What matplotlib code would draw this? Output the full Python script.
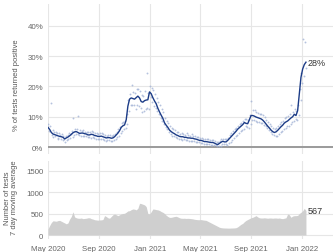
import matplotlib
matplotlib.use("Agg")
import matplotlib.pyplot as plt
import matplotlib.dates as mdates
import pandas as pd

# ---------------- data ----------------
start_date = "2020-05-01"

# smoothed positivity (%), every 4 days from 2020-05-01
positivity = [
    6.5, 5.8, 4.8, 4.3, 4.1, 3.9, 3.7, 3.5, 3.4, 3.2,
    2.7, 3.0, 3.3, 3.7, 4.2, 4.7, 5.0, 5.1, 4.8, 4.5,
    4.6, 4.6, 4.4, 4.3, 4.0, 4.0, 4.2, 4.1, 3.8, 3.7,
    3.5, 3.5, 3.6, 3.4, 3.2, 3.0, 3.1, 3.1, 2.9, 3.0,
    3.4, 4.0, 4.6, 5.4, 6.5, 7.0, 7.3, 9.0, 13.5, 15.8,
    16.2, 16.0, 15.8, 16.3, 16.8, 16.2, 15.0, 14.8, 15.3, 15.5,
    15.6, 18.2, 17.6, 16.3, 15.2, 14.3, 12.8, 11.6, 10.5, 9.5,
    8.0, 7.2, 6.5, 5.6, 5.1, 4.7, 4.4, 4.0, 3.8, 3.5,
    3.4, 3.4, 3.2, 3.2, 3.0, 3.0, 2.9, 2.9, 2.7, 2.6,
    2.4, 2.2, 2.2, 2.0, 1.8, 1.8, 1.7, 1.6, 1.5, 1.5,
    1.3, 1.0, 0.8, 1.2, 1.6, 1.9, 1.7, 1.7, 2.2, 2.8,
    3.4, 4.0, 4.6, 5.2, 5.9, 6.4, 6.9, 7.4, 8.1, 7.8,
    7.7, 9.0, 10.4, 10.4, 10.2, 9.9, 9.7, 9.5, 9.3, 8.9,
    8.3, 7.6, 6.9, 6.3, 5.6, 5.1, 4.8, 5.0, 5.5, 6.1,
    6.7, 7.2, 7.9, 8.3, 8.6, 9.1, 9.6, 10.0, 10.8, 10.4,
    12.0, 17.5, 23.0, 25.7, 27.2, 28.0,
]

# daily positivity points (%), every 2 days from 2020-05-02
daily_positivity = [
    7.5, 5.2, 6.8, 14.5, 4.0, 5.5, 3.2, 4.9, 3.5, 4.8,
    4.6, 3.0, 2.8, 4.5, 3.9, 2.6, 4.2, 2.4, 3.8, 2.5,
    1.8, 3.5, 2.2, 3.9, 2.7, 4.6, 3.1, 4.4, 5.2, 3.3,
    9.6, 4.0, 5.9, 4.2, 6.0, 4.4, 10.2, 3.9, 5.6, 3.6,
    5.4, 3.8, 5.5, 3.7, 5.1, 3.5, 5.0, 3.4, 4.8, 3.2,
    4.9, 3.1, 5.2, 3.4, 5.0, 2.9, 4.6, 2.8, 4.7, 2.6,
    4.3, 2.7, 4.6, 2.5, 4.5, 2.6, 4.2, 2.4, 4.1, 1.9,
    3.8, 2.2, 4.0, 2.3, 3.9, 2.1, 3.6, 2.0, 3.9, 2.3,
    4.4, 2.6, 5.1, 3.2, 5.8, 3.7, 6.6, 4.5, 7.8, 5.4,
    8.3, 6.1, 8.5, 6.4, 10.8, 7.5, 15.5, 11.8, 17.6, 14.0,
    20.5, 13.8, 18.1, 13.9, 17.9, 12.5, 19.2, 14.0, 19.0, 13.5,
    18.4, 12.8, 17.3, 11.5, 16.8, 12.0, 18.6, 12.7, 24.5, 13.0,
    17.8, 12.5, 20.0, 16.4, 19.6, 15.0, 18.7, 13.4, 17.5, 12.8,
    16.2, 12.0, 15.0, 10.9, 13.8, 9.5, 12.5, 8.6, 11.4, 7.6,
    9.6, 6.5, 8.5, 5.8, 7.8, 5.0, 6.8, 4.2, 6.4, 3.8,
    5.8, 3.5, 5.6, 3.2, 5.0, 2.9, 4.8, 2.7, 4.4, 2.5,
    4.5, 2.4, 4.3, 2.5, 4.1, 2.2, 4.6, 2.3, 3.9, 2.1,
    3.8, 2.0, 4.2, 2.1, 3.7, 1.9, 3.6, 1.8, 3.4, 1.7,
    3.3, 1.5, 3.1, 1.4, 3.0, 1.3, 2.8, 1.1, 2.6, 1.0,
    2.6, 1.0, 2.5, 0.9, 2.4, 0.8, 2.3, 0.7, 2.2, 0.8,
    2.0, 0.6, 1.8, 0.3, 1.6, 0.2, 2.0, 0.5, 2.5, 0.9,
    2.8, 1.0, 2.6, 0.9, 2.5, 0.8, 3.1, 1.3, 3.9, 1.7,
    4.5, 2.4, 5.2, 2.9, 5.9, 3.5, 6.4, 4.1, 7.1, 4.7,
    7.6, 5.2, 8.0, 5.6, 8.7, 6.1, 9.3, 6.8, 9.1, 6.5,
    9.0, 6.4, 10.6, 7.6, 15.2, 8.9, 12.3, 8.8, 12.1, 8.6,
    11.6, 8.4, 11.3, 8.2, 11.0, 8.0, 10.9, 7.8, 10.5, 7.4,
    9.8, 6.9, 9.0, 6.2, 8.2, 5.6, 7.5, 5.0, 6.8, 4.4,
    6.3, 4.0, 6.0, 3.7, 6.3, 3.8, 6.9, 4.2, 7.5, 4.8,
    8.2, 5.3, 8.7, 5.8, 9.5, 6.4, 9.9, 6.8, 10.3, 7.0,
    10.8, 7.5, 13.8, 8.1, 11.7, 8.5, 12.6, 9.3, 12.0, 8.9,
    14.0, 10.5, 19.0, 15.5, 24.5, 21.0, 35.8, 23.5, 34.5, 26.0,
]

# number of tests, 7-day moving average, every 4 days from 2020-05-01
tests = [
    140, 220, 290, 330, 325, 320, 335, 340, 320, 300,
    280, 260, 280, 370, 430, 540, 420, 400, 390, 388,
    395, 380, 385, 390, 400, 400, 380, 370, 355, 350,
    345, 350, 352, 360, 450, 430, 400, 390, 430, 470,
    488, 470, 450, 470, 490, 500, 505, 530, 560, 565,
    590, 605, 600, 585, 620, 737, 730, 715, 700, 660,
    500, 490, 540, 605, 600, 590, 585, 570, 545, 528,
    500, 460, 430, 410, 411, 420, 430, 435, 420, 400,
    390, 388, 390, 385, 388, 385, 380, 375, 365, 360,
    356, 355, 358, 350, 345, 340, 320, 300, 280, 260,
    240, 220, 200, 180, 170, 165, 163, 162, 160, 160,
    162, 163, 165, 170, 190, 220, 250, 270, 310, 340,
    360, 380, 400, 411, 430, 450, 420, 400, 395, 395,
    400, 395, 390, 395, 395, 390, 395, 395, 390, 395,
    385, 380, 390, 400, 488, 470, 411, 440, 450, 450,
    455, 500, 527, 560, 620, 567,
]

tick_dates = ["2020-05-01", "2020-09-01", "2021-01-01",
              "2021-05-01", "2021-09-01", "2022-01-01"]
pos_ticks = [0, 10, 20, 30, 40]
test_ticks = [0, 500, 1000, 1500]
end_pos_label = "28%"
end_test_label = "567"

# ---------------- figure ----------------
plt.rcParams['font.family'] = ['Liberation Sans', 'DejaVu Sans']

start = pd.Timestamp(start_date)
line_dates = pd.date_range(start, periods=len(positivity), freq="4D")
scatter_dates = pd.date_range(start + pd.Timedelta(days=1),
                              periods=len(daily_positivity), freq="2D")
test_dates = pd.date_range(start, periods=len(tests), freq="4D")
xmin = start
xmax = start + pd.Timedelta(days=685)
ticks = pd.to_datetime(tick_dates)

W, H = 333, 253
fig = plt.figure(figsize=(W / 100, H / 100), dpi=100)
ax1 = fig.add_axes([48 / W, 1 - 155 / H, (W - 48) / W, 150 / H])
ax2 = fig.add_axes([48 / W, 1 - 240 / H, (W - 48) / W, 78 / H])

grid_c = "#e6e6e6"
tick_c = "#666666"

for ax in (ax1, ax2):
    for s in ax.spines.values():
        s.set_visible(False)
    ax.set_xlim(xmin, xmax)
    ax.set_xticks(ticks)
    ax.grid(True, color=grid_c, lw=0.8)
    ax.set_axisbelow(True)
    ax.tick_params(length=0, labelsize=5.7, colors=tick_c, pad=3.5)

# top panel
ax1.scatter(scatter_dates, daily_positivity, s=1.8, color="#a3b3d6",
            alpha=0.8, linewidths=0, zorder=2)
ax1.plot(line_dates, positivity, color="#1c3c87", lw=1.0, zorder=3)
ax1.axhline(0, color="#9a9a9a", lw=1.4, zorder=1)
ax1.set_ylim(-2.3, 47.2)
ax1.set_yticks(pos_ticks)
ax1.set_yticklabels([f"{v}%" for v in pos_ticks])
ax1.tick_params(axis="x", labelbottom=False)
ax1.text(line_dates[-1] + pd.Timedelta(days=5), positivity[-1], end_pos_label,
         fontsize=6.5, color="#333333", va="center", ha="left")

# bottom panel
ax2.fill_between(test_dates, tests, 0, color="#cfcfcf", lw=0, zorder=2)
ax2.set_ylim(-93, 1721)
ax2.set_yticks(test_ticks)
ax2.set_yticklabels([str(v) for v in test_ticks])
ax2.xaxis.set_major_formatter(mdates.DateFormatter("%b %Y"))
ax2.tick_params(axis="x", pad=4)
ax2.text(test_dates[-1] + pd.Timedelta(days=5), tests[-1], end_test_label,
         fontsize=6.5, color="#333333", va="center", ha="left")

fig.text(17 / W, 1 - 85 / H, "% of tests returned positive", rotation=90,
         ha="center", va="center", fontsize=5.4, color="#555555")
fig.text(11 / W, 1 - 198 / H, "Number of tests\n7 day moving average",
         rotation=90, ha="center", va="center", fontsize=5.4,
         color="#555555", multialignment="center", linespacing=1.15)

fig.savefig("out.png", dpi=100)
